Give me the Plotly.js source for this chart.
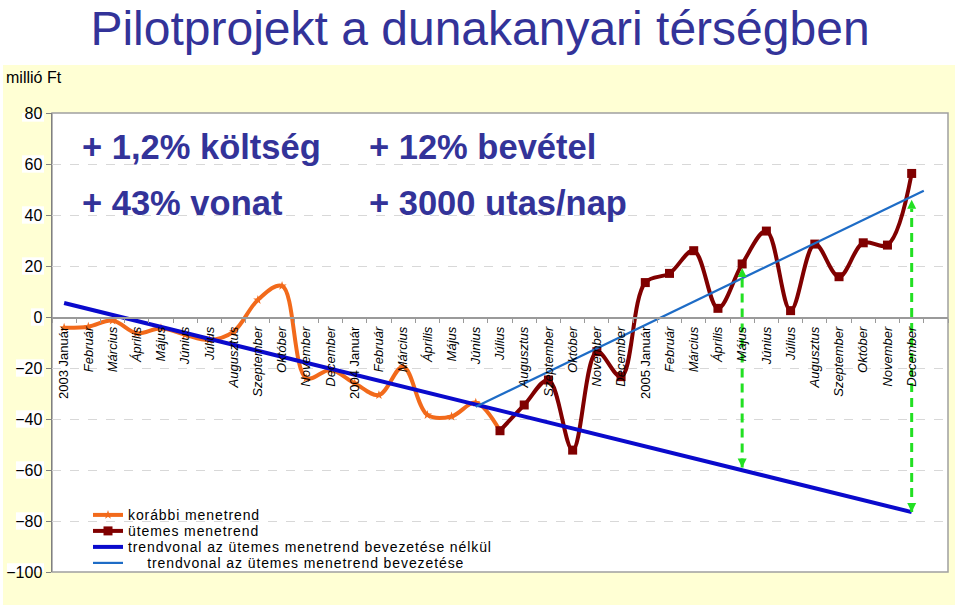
<!DOCTYPE html>
<html>
<head>
<meta charset="utf-8">
<script src="https://cdn.plot.ly/plotly-3.0.1.min.js"></script>
<style>
  html, body { margin: 0; padding: 0; background: #ffffff; }
  #chart { width: 960px; height: 605px; }
  #chart .legendtext { letter-spacing: 0.9px; }
</style>
</head>
<body>
<div id="chart"></div>
<script>
// ---- Data ----
const honapok = [
  '2003 Január','Február','Március','Április','Május','Június','Július','Augusztus','Szeptember','Október','November','December',
  '2004 Január','Február','Március','Április','Május','Június','Július','Augusztus','Szeptember','Október','November','December',
  '2005 Január','Február','Március','Április','Május','Június','Július','Augusztus','Szeptember','Október','November','December'
];
// korábbi menetrend: 2003 Január – 2004 Július
const korabbiStart = 0;
const korabbi = [-4.2, -3.8, -1.4, -6.4, -4.4, -7.0, -9.0, -5.7, 6.7, 12.2, -24.0, -20.8,
                 -26.0, -30.6, -19.5, -38.4, -39.0, -33.6, -44.6];
// ütemes menetrend: 2004 Július – 2005 December
const utemesStart = 18;
const utemes = [-44.6, -34.5, -24.7, -52.2, -13.6, -23.4,
                13.5, 17.1, 26.0, 3.4, 20.8, 33.7, 2.5, 28.6, 15.8, 29.1, 28.2, 56.3];
// trendvonalak (végpontok, hónap-index)
const trendNelkulX = [0, 35];
const trendNelkulY = [5.5, -76.5];
const trendBevX = [17, 35.5];
const trendBevY = [-35.2, 49.5];
// zöld nyilak
const nyilX = [28, 35];
const nyilAlso = [-59, -76.5];
const nyilFelso = [19.2, 46];
const yTicks = [80, 60, 40, 20, 0, -20, -40, -60, -80, -100];

// ---- Build ----
const idx = (start, arr) => arr.map((_, i) => start + i);
const tickText = honapok.map(t => /^\d{4}/.test(t) ? t : '<i>' + t + '</i>');
const font = 'Arial, "Liberation Sans", sans-serif';

const traces = [
  {
    x: idx(korabbiStart, korabbi), y: korabbi, name: 'korábbi menetrend',
    type: 'scatter', mode: 'lines+markers',
    line: { color: '#F26A1B', width: 4, shape: 'spline', smoothing: 1 },
    marker: { symbol: 'star', size: 7, color: '#F26A1B' }
  },
  {
    x: idx(utemesStart, utemes), y: utemes, name: 'ütemes menetrend',
    type: 'scatter', mode: 'lines+markers',
    line: { color: '#800000', width: 4, shape: 'spline', smoothing: 1 },
    marker: { symbol: 'square', size: 9, color: '#800000' }
  },
  {
    x: trendNelkulX, y: trendNelkulY, name: 'trendvonal az ütemes menetrend bevezetése nélkül',
    type: 'scatter', mode: 'lines',
    line: { color: '#0A0ACC', width: 4 }
  },
  {
    x: trendBevX, y: trendBevY, name: '&nbsp;&nbsp;&nbsp;&nbsp;trendvonal az ütemes menetrend bevezetése',
    type: 'scatter', mode: 'lines',
    line: { color: '#1E6CC6', width: 2.2 }
  }
];
nyilX.forEach((xv, i) => {
  traces.push({
    x: [xv, xv], y: [nyilAlso[i], nyilFelso[i]], showlegend: false, hoverinfo: 'skip',
    type: 'scatter', mode: 'lines+markers',
    line: { color: '#22E022', width: 3, dash: '9px,6px' },
    marker: { symbol: ['arrow-down', 'arrow-up'], size: 9, color: '#22E022' }
  });
});

const L = 52, R = 948, T = 113, B = 572, W = 960, H = 605;
const px = v => (v - L) / (R - L);
const py = v => (B - v) / (B - T);

// white boxes behind the y tick labels (as in the original)
const labelBoxes = yTicks.map(v => {
  const s = String(v);
  const w = s.replace('-', '').length * 9 + (v < 0 ? 6 : 0) + 4;
  return { type: 'rect', xref: 'paper', yref: 'y', x0: px(44 - w), x1: px(44), y0: v - 3.4, y1: v + 3.4,
           fillcolor: '#ffffff', line: { width: 0 }, layer: 'below' };
});

const layout = {
  width: W, height: H,
  margin: { l: L, r: W - R, t: T, b: H - B, pad: 0 },
  paper_bgcolor: '#ffffff',
  plot_bgcolor: 'rgba(0,0,0,0)',
  font: { family: font, color: '#000000' },
  title: {
    text: 'Pilotprojekt a dunakanyari térségben',
    font: { family: font, size: 48, color: '#333399' },
    x: 0.5, xref: 'container', xanchor: 'center',
    y: 1 - 28 / H, yref: 'container', yanchor: 'middle'
  },
  xaxis: {
    range: [-0.5, 36.5], tickmode: 'array',
    tickvals: idx(0, honapok), ticktext: tickText,
    tickangle: -90, tickfont: { family: font, size: 13, color: '#000' },
    ticks: '', showgrid: false, zeroline: false,
    showline: true, linecolor: '#9a9a9a', linewidth: 1.5,
    anchor: 'free', position: 100 / 180,
    minor: { tick0: -0.5, dtick: 1, ticks: 'outside', ticklen: 4, tickcolor: '#9a9a9a', showgrid: false },
    ticklabelstandoff: 3
  },
  yaxis: {
    range: [-100, 80], tickmode: 'array', tickvals: yTicks,
    tickfont: { family: font, size: 16, color: '#000' },
    ticks: 'outside', ticklen: 5, tickcolor: '#808080',
    showline: true, linecolor: '#808080', linewidth: 1.5,
    showgrid: true, gridcolor: '#d8d8d8', griddash: 'dash', gridwidth: 1,
    zeroline: false
  },
  legend: {
    x: px(88), y: 0.005, xanchor: 'left', yanchor: 'bottom',
    bgcolor: 'rgba(0,0,0,0)', borderwidth: 0,
    font: { family: font, size: 14, color: '#000' },
    tracegroupgap: 0
  },
  shapes: [
    { type: 'rect', xref: 'paper', yref: 'paper', x0: px(3), x1: px(955), y0: py(605), y1: py(65),
      fillcolor: '#FFFFD4', line: { width: 0 }, layer: 'below' },
    ...labelBoxes,
    { type: 'rect', xref: 'paper', yref: 'paper', x0: 0, x1: 1, y0: 0, y1: 1,
      fillcolor: '#ffffff', line: { color: '#a0a0a0', width: 1.5 }, layer: 'below' }
  ],
  annotations: [
    { text: 'millió Ft', xref: 'paper', yref: 'paper', x: px(4), y: py(77), xanchor: 'left', yanchor: 'middle',
      showarrow: false, font: { family: font, size: 16, color: '#000' } },
    { text: '<b>+ 1,2% költség</b>', xref: 'paper', yref: 'paper', x: px(80), y: py(147), xanchor: 'left', yanchor: 'middle',
      showarrow: false, font: { family: font, size: 34.5, color: '#333399' } },
    { text: '<b>+ 43% vonat</b>', xref: 'paper', yref: 'paper', x: px(80), y: py(203), xanchor: 'left', yanchor: 'middle',
      showarrow: false, font: { family: font, size: 34.5, color: '#333399' } },
    { text: '<b>+ 12% bevétel</b>', xref: 'paper', yref: 'paper', x: px(367), y: py(147), xanchor: 'left', yanchor: 'middle',
      showarrow: false, font: { family: font, size: 34.5, color: '#333399' } },
    { text: '<b>+ 3000 utas/nap</b>', xref: 'paper', yref: 'paper', x: px(367), y: py(203), xanchor: 'left', yanchor: 'middle',
      showarrow: false, font: { family: font, size: 34.5, color: '#333399' } }
  ]
};

Plotly.newPlot('chart', traces, layout, { displayModeBar: false, staticPlot: true }).then(gd => {
  // let the letter-spaced legend texts show in full
  gd.querySelectorAll('.legend .scrollbox').forEach(el => el.removeAttribute('clip-path'));
  // tighten legend rows toward the original's spacing
  const items = Array.from(gd.querySelectorAll('.legend .traces'));
  const n = items.length;
  if (!n) return;
  const parse = g => {
    const m = (g.getAttribute('transform') || '').match(/translate\(\s*([-\d.]+)[ ,]+([-\d.]+)\s*\)/);
    return m ? [parseFloat(m[1]), parseFloat(m[2])] : null;
  };
  const last = parse(items[n - 1]);
  if (!last) return;
  const step = 16, shift = 9;
  items.forEach((g, i) => {
    const p = parse(g);
    if (!p) return;
    g.setAttribute('transform', 'translate(' + p[0] + ',' + (last[1] + shift - (n - 1 - i) * step) + ')');
  });
});
</script>
</body>
</html>
